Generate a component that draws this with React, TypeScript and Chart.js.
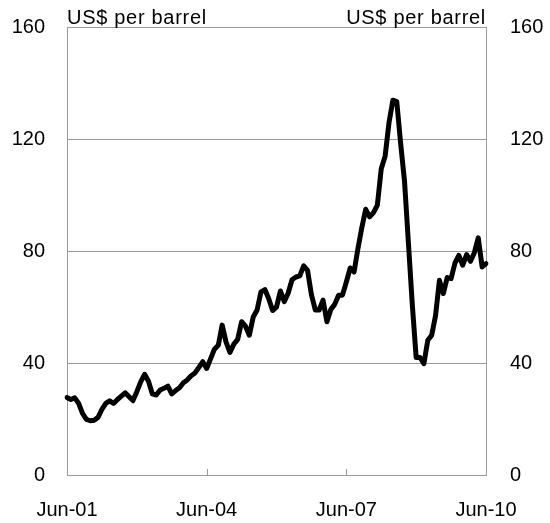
import React, { useEffect, useRef } from 'react';
import { Chart, registerables } from 'chart.js';

Chart.register(...registerables);

// ---- data ----
const START_YEAR = 2001;
const START_MONTH = 5; // June (0-based)
const MONTH_NAMES = ['Jan', 'Feb', 'Mar', 'Apr', 'May', 'Jun', 'Jul', 'Aug', 'Sep', 'Oct', 'Nov', 'Dec'];

// Monthly oil price, US$ per barrel, Jun-01 .. Jun-10
const PRICES_2001 = [27.7, 27.0, 27.6, 25.6, 22.0, 19.9, 19.4];
const PRICES_2002 = [19.6, 20.6, 23.5, 25.6, 26.5, 25.6, 27.0, 28.2, 29.4, 28.0, 26.6, 29.8];
const PRICES_2003 = [33.3, 36.0, 33.5, 29.0, 28.6, 30.4, 31.0, 31.8, 29.0, 30.2, 31.2, 33.0];
const PRICES_2004 = [34.0, 35.5, 36.5, 38.5, 40.5, 38.1, 41.5, 45.0, 46.4, 53.6, 47.5, 43.8];
const PRICES_2005 = [46.8, 48.5, 54.8, 53.2, 50.0, 56.5, 59.0, 65.5, 66.3, 63.0, 58.8, 60.0];
const PRICES_2006 = [65.8, 62.0, 65.0, 69.8, 70.8, 71.2, 74.8, 73.2, 64.5, 59.0, 59.0, 62.5];
const PRICES_2007 = [54.8, 59.2, 61.0, 64.3, 64.3, 69.0, 74.0, 72.6, 81.0, 88.5, 95.0, 92.3];
const PRICES_2008 = [93.8, 96.5, 109.5, 114.0, 126.0, 134.0, 133.5, 118.5, 105.0, 83.0, 61.0, 42.0];
const PRICES_2009 = [42.0, 39.8, 48.2, 50.0, 57.0, 69.6, 64.9, 70.6, 70.2, 75.8, 78.5, 75.0];
const PRICES_2010 = [78.8, 76.4, 79.5, 84.8, 74.4, 75.6];

const PRICES = [
  ...PRICES_2001, ...PRICES_2002, ...PRICES_2003, ...PRICES_2004, ...PRICES_2005,
  ...PRICES_2006, ...PRICES_2007, ...PRICES_2008, ...PRICES_2009, ...PRICES_2010,
];

const LABELS = PRICES.map((_, i) => {
  const m = (START_MONTH + i) % 12;
  const y = START_YEAR + Math.floor((START_MONTH + i) / 12);
  return `${MONTH_NAMES[m]}-${String(y % 100).padStart(2, '0')}`;
});

const X_TICK_LABELS = ['Jun-01', 'Jun-04', 'Jun-07', 'Jun-10'];
const Y_MIN = 0;
const Y_MAX = 160;
const Y_STEP = 40;
const UNIT_LABEL = 'US$ per barrel';

// ---- styles ----
const FONT_FAMILY = '"Liberation Sans", Arial, Helvetica, sans-serif';
const FONT_SIZE = 20;
const GRID_COLOR = '#9a9a9a';
const LINE_COLOR = '#000000';

const zeroPadding = (scale: any) => {
  scale.paddingTop = 0;
  scale.paddingBottom = 0;
  scale.paddingLeft = 0;
  scale.paddingRight = 0;
};

const decorPlugin = {
  id: 'decor',
  afterDraw(chart: any) {
    const { ctx, chartArea, scales } = chart;
    const x = scales.x;
    ctx.save();
    // inner tick marks on x axis
    ctx.strokeStyle = GRID_COLOR;
    ctx.lineWidth = 1;
    x.ticks.forEach((t: any) => {
      const px = Math.round(x.getPixelForValue(t.value)) + 0.5;
      if (px > chartArea.left + 2 && px < chartArea.right - 2) {
        ctx.beginPath();
        ctx.moveTo(px, chartArea.bottom);
        ctx.lineTo(px, chartArea.bottom - 6);
        ctx.stroke();
      }
    });
    // unit labels
    ctx.fillStyle = '#000';
    ctx.font = `${FONT_SIZE}px ${FONT_FAMILY}`;
    try { (ctx as any).letterSpacing = '0.7px'; } catch (e) { /* ignore */ }
    ctx.textBaseline = 'alphabetic';
    ctx.textAlign = 'left';
    ctx.fillText(UNIT_LABEL, chartArea.left, chartArea.top - 4);
    ctx.textAlign = 'right';
    ctx.fillText(UNIT_LABEL, chartArea.right, chartArea.top - 4);
    ctx.restore();
  },
};

export default function App() {
  const canvasRef = useRef<HTMLCanvasElement | null>(null);

  useEffect(() => {
    if (!canvasRef.current) return;
    const tickFont = { family: FONT_FAMILY, size: FONT_SIZE };
    const chart = new Chart(canvasRef.current, {
      type: 'line',
      data: {
        labels: LABELS,
        datasets: [
          {
            data: PRICES,
            borderColor: LINE_COLOR,
            borderWidth: 5,
            pointRadius: 0,
            tension: 0,
            fill: false,
            borderJoinStyle: 'round',
            borderCapStyle: 'round',
          },
        ],
      },
      options: {
        responsive: false,
        animation: false,
        events: [],
        layout: { padding: { top: 27.5, left: 0, right: 0, bottom: 0 } },
        plugins: {
          legend: { display: false },
          tooltip: { enabled: false },
          title: { display: false },
        },
        scales: {
          x: {
            type: 'category',
            offset: false,
            grid: { display: false, drawTicks: false },
            border: { display: true, color: GRID_COLOR, width: 1 },
            ticks: {
              autoSkip: false,
              maxRotation: 0,
              minRotation: 0,
              padding: 23,
              color: '#000',
              font: tickFont,
            },
            afterBuildTicks: (scale: any) => {
              scale.ticks = scale.ticks.filter((t: any) => X_TICK_LABELS.includes(LABELS[t.value]));
            },
            afterFit: (scale: any) => {
              scale.height = 48;
              zeroPadding(scale);
            },
          },
          y: {
            position: 'left',
            min: Y_MIN,
            max: Y_MAX,
            grid: { color: GRID_COLOR, lineWidth: 1, drawTicks: false },
            border: { display: true, color: GRID_COLOR, width: 1 },
            ticks: { stepSize: Y_STEP, padding: 22, color: '#000', font: tickFont },
            afterFit: (scale: any) => {
              scale.width = 67;
              zeroPadding(scale);
            },
          },
          y2: {
            position: 'right',
            min: Y_MIN,
            max: Y_MAX,
            grid: { display: false, drawTicks: false },
            border: { display: true, color: GRID_COLOR, width: 1 },
            ticks: { stepSize: Y_STEP, padding: 24, color: '#000', font: tickFont },
            afterFit: (scale: any) => {
              scale.width = 64;
              zeroPadding(scale);
            },
          },
        },
      } as any,
      plugins: [decorPlugin],
    });
    return () => chart.destroy();
  }, []);

  return (
    <div style={{ position: 'absolute', left: 0, top: 0, width: 550, height: 523, background: '#fff' }}>
      <canvas ref={canvasRef} width={550} height={523} style={{ display: 'block' }} />
    </div>
  );
}
